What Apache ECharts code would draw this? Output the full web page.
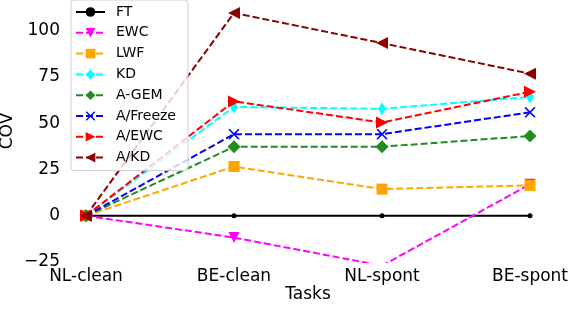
<!DOCTYPE html>
<html lang="en">
<head>
    <meta charset="UTF-8">
    <title>COV per task</title>
    <script src="https://cdn.jsdelivr.net/npm/echarts@6/dist/echarts.min.js"></script>
    <style>
        html, body { margin:0; padding:0; background:#fff; }
    </style>
</head>
<body>

    <div id="main" style="width:572px; height:336px;"></div>

    <script>
        var tasks = ["NL-clean", "BE-clean", "NL-spont", "BE-spont"];
        var yTicks = [-25, 0, 25, 50, 75, 100];

        var ft      = [0, 0, 0, 0];
        var ewc     = [0, -11.8, -27, 17];
        var lwf     = [0, 26.6, 14.4, 16.4];
        var kd      = [0, 58.8, 57.8, 64.2];
        var agem    = [0, 37.3, 37.3, 43.1];
        var afreeze = [0, 44.1, 44.1, 55.9];
        var aewc    = [0, 61.8, 50.4, 67];
        var akd     = [0, 109.6, 93.3, 76.8];

        var charts = echarts.init(document.getElementById("main"));

        var font = "DejaVu Sans";
        var xPath = 'path://M0,1L1,0L5,4L9,0L10,1L6,5L10,9L9,10L5,6L1,10L0,9L4,5Z';

        function mk(name, data, color, symbol, size, rotate, solid) {
            return {
                name: name,
                type: 'line',
                data: data,
                symbol: symbol,
                symbolSize: size,
                symbolRotate: rotate || 0,
                showAllSymbol: true,
                animation: false,
                itemStyle: { color: color },
                lineStyle: { color: color, width: 2, type: solid ? 'solid' : [7, 3] }
            };
        }

        var options = {
            animation: false,
            grid: { left: 86, right: 42, top: 0, bottom: 74, outerBoundsMode: 'none' },
            legend: {
                orient: 'vertical',
                left: 71,
                top: 0,
                padding: [5, 12, 6, 4],
                itemWidth: 29,
                itemHeight: 12,
                itemGap: 6.8,
                backgroundColor: 'rgba(255,255,255,0.8)',
                borderColor: '#d0d0d0',
                borderWidth: 1,
                borderRadius: 3,
                textStyle: { fontFamily: font, fontSize: 14, color: '#000', padding: [0, 0, 0, 6] },
                data: ["FT", "EWC", "LWF", "KD", "A-GEM", "A/Freeze", "A/EWC", "A/KD"]
            },
            xAxis: {
                type: 'category',
                data: tasks,
                boundaryGap: false,
                name: 'Tasks',
                nameLocation: 'middle',
                nameGap: 24,
                nameMoveOverlap: false,
                nameTextStyle: { fontFamily: font, fontSize: 17, color: '#000' },
                axisLine: { show: false },
                axisTick: { show: false },
                axisLabel: { fontFamily: font, fontSize: 17, color: '#000', margin: 6 },
                splitLine: { show: false }
            },
            yAxis: {
                type: 'value',
                min: yTicks[0],
                max: 116.6,
                interval: 25,
                name: 'COV',
                nameLocation: 'middle',
                nameGap: 70,
                nameMoveOverlap: false,
                nameTextStyle: { fontFamily: font, fontSize: 17, color: '#000' },
                axisLine: { show: false },
                axisTick: { show: false },
                splitLine: { show: false },
                axisLabel: {
                    fontFamily: font, fontSize: 17, color: '#000', margin: 26,
                    showMaxLabel: false,
                    formatter: function (v) {
                        if (yTicks.indexOf(v) < 0) return '';
                        return v < 0 ? '\u2212' + Math.abs(v) : String(v);
                    }
                }
            },
            series: [
                mk("FT", ft, '#000000', 'circle', 5, 0, true),
                mk("EWC", ewc, '#ff00ff', 'triangle', 11, 180),
                mk("LWF", lwf, '#ffa500', 'rect', 11),
                mk("KD", kd, '#00ffff', 'diamond', [8, 13]),
                mk("A-GEM", agem, '#228b22', 'diamond', 13),
                mk("A/Freeze", afreeze, '#0000ff', xPath, 11),
                mk("A/EWC", aewc, '#ff0000', 'triangle', 12, -90),
                mk("A/KD", akd, '#8b0000', 'triangle', 12, 90)
            ]
        };

        charts.setOption(options);
    </script>
</body>
</html>
